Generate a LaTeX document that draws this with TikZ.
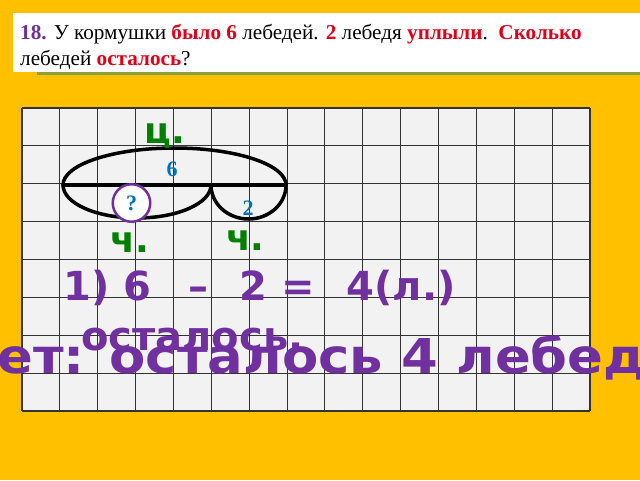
\documentclass[tikz,border=0pt]{standalone}
\usepackage{fontspec}
\setmainfont{Liberation Serif}
\newfontfamily\sansbold{DejaVu Sans}
\newfontfamily\answerfont{DejaVu Sans}[FakeStretch=1.1]

\definecolor{bgyellow}{RGB}{255,192,0}
\definecolor{cellgray}{RGB}{242,242,242}
\definecolor{titleline}{RGB}{140,160,60}
\definecolor{solvepurple}{RGB}{112,48,160}
\definecolor{taskred}{RGB}{226,0,26}
\definecolor{numblue}{RGB}{0,112,192}
\definecolor{partgreen}{RGB}{0,128,0}

\begin{document}
\begin{tikzpicture}[x=1pt,y=-1pt,
  gridline/.style={black!80,line width=1.1pt},
  oval/.style={line width=3.5pt,line cap=round},
  task/.style={inner sep=0pt,anchor=base west,font=\fontsize{21.2}{25}\selectfont},
  part/.style={inner sep=0pt,anchor=base west,text=partgreen,font=\sansbold\bfseries\fontsize{36}{40}\selectfont},
  num/.style={inner sep=0pt,anchor=base,text=numblue,font=\bfseries\fontsize{22}{26}\selectfont},
  solve/.style={inner sep=0pt,anchor=base west,text=solvepurple,font=\sansbold\bfseries\fontsize{40}{48}\selectfont}]

\useasboundingbox (0,0) rectangle (640,480);
\fill[bgyellow] (0,0) rectangle (640,480);

% The task
\fill[white] (13,13) rectangle (640,72);
\draw[titleline,line width=2.5pt] (37,73.5) -- (640,73.5);
\node[task] (line1) at (20,39.5) {\textcolor{solvepurple}{\textbf{18.}} У кормушки \textcolor{taskred}{\textbf{было 6}} лебедей. \textcolor{taskred}{\textbf{2}} лебедя \textcolor{taskred}{\textbf{уплыли}}.\ \ \textcolor{taskred}{\textbf{Сколько}}};
\node[task] (line2) at (20,65.5) {лебедей \textcolor{taskred}{\textbf{осталось}}?};

% The squared paper
\fill[cellgray] (22,108) rectangle (590,411);
\foreach \i in {0,...,15}
{
	\draw[gridline] ({22+\i*37.867},108) -- ({22+\i*37.867},411);
}
\foreach \j in {0,...,8}
{
	\draw[gridline] (22,{108+\j*37.875}) -- (590,{108+\j*37.875});
}

% The scheme
\coordinate (left) at (63,185);
\coordinate (mid) at (211,185);
\coordinate (right) at (286,185);
\draw[oval] (left) arc[start angle=180,end angle=360,x radius=111.5,y radius=37];
\draw[oval] (left) -- (right);
\draw[oval] (left) arc[start angle=180,end angle=0,x radius=74,y radius=33];
\draw[oval] (mid) arc[start angle=180,end angle=0,x radius=37.5,y radius=34];

\node[part] (whole) at (144.5,143) {ц.};
\node[part] (partA) at (110.5,252) {ч.};
\node[part] (partB) at (226,250) {ч.};
\node[num] (six) at (172,176) {6};
\node[num] (two) at (248,215) {2};
\node[circle,draw=solvepurple,line width=2.5pt,fill=white,minimum size=37.5pt,inner sep=0pt,
      text=numblue,font=\bfseries\fontsize{22}{26}\selectfont] (ask) at (131.5,203) {?};

% The solution
\node[solve] (step) at (63.5,300.7) {1)~6\hspace{37pt}–\hspace{31pt}2~=\hspace{32pt}4(л.)};
\node[solve] (left4) at (81,350.5) {осталось.};
\node[solve,font=\answerfont\bfseries\fontsize{48}{56}\selectfont] (answer) at (-111.6,373) {Ответ: осталось 4 лебедя};

\end{tikzpicture}
\end{document}
